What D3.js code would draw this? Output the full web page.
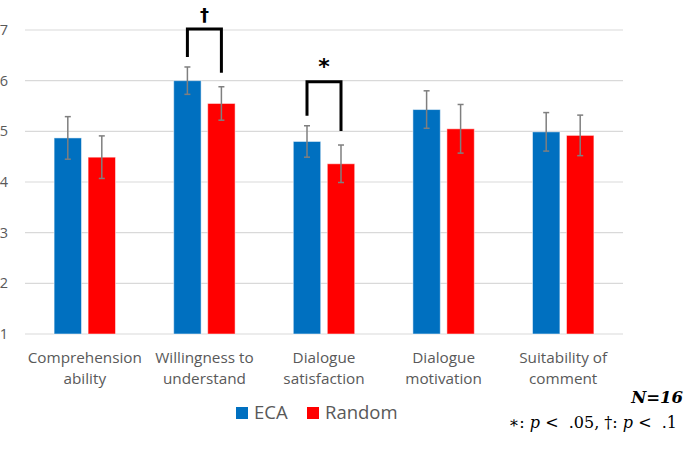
<!DOCTYPE html>
<html>
<head>
<meta charset="utf-8">
<script src="https://cdn.jsdelivr.net/npm/d3@7"></script>
<style>
  body { margin: 0; background: #fff; }
  svg { display: block; }
</style>
</head>
<body>
<svg></svg>
<script>
var width = 685;
var height = 476;

// data
var categories = [
  ["Comprehension", "ability"],
  ["Willingness to", "understand"],
  ["Dialogue", "satisfaction"],
  ["Dialogue", "motivation"],
  ["Suitability of", "comment"]
];
var series = ["ECA", "Random"];
var ecaMeans = [4.87, 6.00, 4.80, 5.43, 4.99];
var ecaErr = [0.42, 0.27, 0.31, 0.37, 0.38];
var randomMeans = [4.49, 5.55, 4.36, 5.05, 4.92];
var randomErr = [0.42, 0.33, 0.37, 0.48, 0.40];
var yTicks = [1, 2, 3, 4, 5, 6, 7];
var sigCategory = [1, 2];
var sigMarks = ["\u2020", "*"];
var sigLevel = [7.02, 5.98];

var colors = {ECA: "#0070C0", Random: "#FF0000"};

var svg = d3.select('svg')
    .attr('width', width)
    .attr('height', height);

var plotL = 25, plotR = 623, plotT = 30, plotB = 334;

var x0 = d3.scaleBand()
    .domain(d3.range(categories.length))
    .range([plotL, plotR]);

var groupW = 61.4;
var x1 = d3.scaleBand()
    .domain(series)
    .range([(x0.bandwidth() - groupW) / 2, (x0.bandwidth() + groupW) / 2])
    .paddingInner(0.194);

var y = d3.scaleLinear()
    .domain([1, 7])
    .range([plotB, plotT]);

// gridlines
svg.append('g')
    .selectAll('line')
    .data(yTicks)
    .enter()
    .append('line')
    .attr('x1', plotL)
    .attr('x2', plotR)
    .attr('y1', d => y(d))
    .attr('y2', d => y(d))
    .attr('stroke', '#d9d9d9')
    .attr('stroke-width', 1.2);

// y tick labels
svg.append('g')
    .selectAll('text')
    .data(yTicks)
    .enter()
    .append('text')
    .attr('x', 8)
    .attr('y', d => y(d))
    .attr('dy', '0.35em')
    .attr('text-anchor', 'end')
    .attr('font-family', 'Open Sans, sans-serif')
    .attr('font-size', 14.5)
    .attr('fill', '#595959')
    .text(d => d);

var rows = [];
categories.forEach(function(c, i) {
  rows.push({cat: i, s: "ECA", v: ecaMeans[i], e: ecaErr[i]});
  rows.push({cat: i, s: "Random", v: randomMeans[i], e: randomErr[i]});
});

var bx = d => x0(d.cat) + x1(d.s);

svg.append('g')
    .selectAll('rect')
    .data(rows)
    .enter()
    .append('rect')
    .attr('x', bx)
    .attr('y', d => y(d.v))
    .attr('width', x1.bandwidth())
    .attr('height', d => y(1) - y(d.v))
    .attr('fill', d => colors[d.s])
    .attr('stroke', 'rgba(255,255,255,0.5)')
    .attr('stroke-width', 1);

// error bars
var eb = svg.append('g')
    .attr('stroke', '#7f7f7f')
    .attr('stroke-width', 1.5)
    .selectAll('g')
    .data(rows)
    .enter()
    .append('g');

var cx = d => bx(d) + x1.bandwidth() / 2;

eb.append('line')
    .attr('x1', cx).attr('x2', cx)
    .attr('y1', d => y(d.v + d.e))
    .attr('y2', d => y(d.v - d.e));
eb.append('line')
    .attr('x1', d => cx(d) - 3).attr('x2', d => cx(d) + 3)
    .attr('y1', d => y(d.v + d.e))
    .attr('y2', d => y(d.v + d.e));
eb.append('line')
    .attr('x1', d => cx(d) - 3).attr('x2', d => cx(d) + 3)
    .attr('y1', d => y(d.v - d.e))
    .attr('y2', d => y(d.v - d.e));

// significance brackets
sigCategory.forEach(function(ci, k) {
  var a = rows[ci * 2], b = rows[ci * 2 + 1];
  var xa = cx(a), xb = cx(b), yt = y(sigLevel[k]);
  var ya = y(a.v + a.e) - 10, yb = y(b.v + b.e) - 14;
  svg.append('path')
      .attr('d', d3.line()([[xa, ya], [xa, yt], [xb, yt], [xb, yb]]))
      .attr('fill', 'none')
      .attr('stroke', '#000')
      .attr('stroke-width', 3);
  svg.append('text')
      .attr('x', (xa + xb) / 2)
      .attr('y', yt - 8)
      .attr('text-anchor', 'middle')
      .attr('font-family', 'DejaVu Sans, sans-serif')
      .attr('font-weight', 'bold')
      .attr('font-size', sigMarks[k] == "*" ? 22 : 18)
      .attr('fill', '#000')
      .text(sigMarks[k]);
});

// category labels
var cl = svg.append('g')
    .selectAll('text')
    .data(categories)
    .enter()
    .append('text')
    .attr('x', (d, i) => x0(i) + x0.bandwidth() / 2)
    .attr('y', 363)
    .attr('text-anchor', 'middle')
    .attr('font-family', 'Open Sans, sans-serif')
    .attr('font-size', 15.3)
    .attr('fill', '#595959');
cl.append('tspan').attr('x', (d, i) => x0(i) + x0.bandwidth() / 2).text(d => d[0]);
cl.append('tspan').attr('x', (d, i) => x0(i) + x0.bandwidth() / 2).attr('dy', 21).text(d => d[1]);

// legend
var legX = [236, 307];
var leg = svg.append('g')
    .selectAll('g')
    .data(series)
    .enter()
    .append('g')
    .attr('transform', (d, i) => 'translate(' + legX[i] + ',407)');
leg.append('rect')
    .attr('width', 12).attr('height', 12)
    .attr('fill', d => colors[d]);
leg.append('text')
    .attr('x', 18).attr('y', 6).attr('dy', '0.35em')
    .attr('font-family', 'Open Sans, sans-serif')
    .attr('font-size', 18.5)
    .attr('fill', '#595959')
    .text(d => d);

// notes
svg.append('text')
    .attr('x', 683).attr('y', 403)
    .attr('text-anchor', 'end')
    .attr('font-family', 'DejaVu Serif, serif')
    .attr('font-style', 'italic')
    .attr('font-weight', 'bold')
    .attr('font-size', 16.5)
    .text('N=16');

var note = svg.append('text')
    .attr('x', 677).attr('y', 428)
    .attr('text-anchor', 'end')
    .attr('font-family', 'DejaVu Serif, serif')
    .attr('font-size', 16)
    .attr('xml:space', 'preserve');
note.append('tspan').text('\u2217: ');
note.append('tspan').attr('font-style', 'italic').text('p');
note.append('tspan').text(' <  .05, \u2020: ');
note.append('tspan').attr('font-style', 'italic').text('p');
note.append('tspan').text(' <  .1');
</script>
</body>
</html>
